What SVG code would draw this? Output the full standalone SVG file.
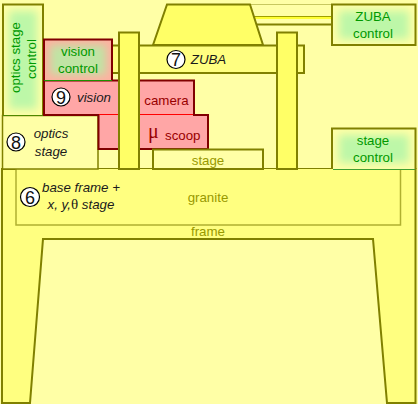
<svg xmlns="http://www.w3.org/2000/svg" width="418" height="404" viewBox="0 0 418 404">
<style>
text{font-family:"Liberation Sans",Arial,sans-serif;font-size:13.3px;text-anchor:middle}
.y{fill:#ffff80;stroke:#808000;stroke-width:2}
.l{fill:#ffffa6;stroke:#808000;stroke-width:2}
.c{fill:#ffff66;stroke:#808000;stroke-width:2}
.r{fill:#ffa6a6;stroke:#800000;stroke-width:2}
.g{fill:#009900}
.o{fill:#999900}
.d{fill:#990000}
.i{fill:#1a1a1a;font-style:italic}
.n{fill:#fff;stroke:#000;stroke-width:1.2}
.t{fill:#111;font-size:18px}
.s{font-family:"Liberation Serif",serif;font-style:normal}
</style>
<defs>
<filter id="b" x="-40%" y="-40%" width="180%" height="180%"><feGaussianBlur stdDeviation="4"/></filter>
<clipPath id="c1"><rect x="3" y="5" width="40" height="110"/></clipPath>
<clipPath id="c2"><rect x="44" y="39.500" width="68" height="41"/></clipPath>
<clipPath id="c3"><rect x="333" y="5" width="82" height="40"/></clipPath>
<clipPath id="c4"><rect x="333" y="129" width="82" height="40"/></clipPath>
</defs>
<rect width="418" height="404" fill="#ffffa6"/>
<g id="frame"><path class="y" d="M2 169H415.500V403H387L373 239H43L30 403H2Z"/><text class="o" x="208" y="236">frame</text></g>
<g id="granite"><path d="M16 169V225H400.500V169" fill="#ffff80" stroke="#b0b030" stroke-width="1.500"/><text class="o" x="208" y="202">granite</text></g>
<g id="zuba-link"><path d="M250 4.500H332" stroke="#c8c860" stroke-width="1" fill="none"/><path d="M256 24.500H332" stroke="#808000" stroke-width="2"/><path d="M254 16.500H333" stroke="#a0a000" stroke-width="1"/><path d="M254 18H333" stroke="#ffff33" stroke-width="2"/></g>
<g id="optics-stage"><rect x="2.500" y="115.500" width="95.500" height="53.500" fill="#ffffa6" stroke="#808000" stroke-width="1.500"/><path d="M3 115H43" stroke="#1e9000" stroke-width="1"/><text class="i" x="51" y="138">optics</text><text class="i" x="51" y="156">stage</text><circle class="n" cx="16" cy="142" r="9"/><text class="t" x="16" y="148.500">8</text></g>
<g id="optics-stage-control"><rect x="3" y="5" width="40" height="110" fill="#ffffa6"/><g clip-path="url(#c1)"><rect x="9" y="11" width="28" height="98" fill="#bdf7a8" filter="url(#b)"/></g><path d="M43 115V4.500H3V115" fill="none" stroke="#808000" stroke-width="2"/><text class="g" transform="translate(20 57.500) rotate(-90)">optics stage</text><text class="g" transform="translate(35.500 59) rotate(-90)">control</text></g>
<g id="zuba"><path class="c" d="M153 45L167 4.500H250L263 45Z"/><rect class="y" x="112" y="45.500" width="192" height="27.500"/><text class="i" x="208.500" y="64">ZUBA</text><circle class="n" cx="176" cy="59.500" r="9"/><text class="t" x="176" y="66">7</text></g>
<g id="vision"><path class="r" d="M44 80.500H194V115H208V149H98.500V115H44Z"/><path d="M99 114.500H193" stroke="#ff0000" stroke-width="1"/><text class="i" x="94" y="102">vision</text><text class="d" x="166.500" y="105">camera</text><text class="d" style="text-anchor:start" x="148" y="138"><tspan class="s" style="font-size:20px">μ</tspan><tspan x="165" y="140">scoop</tspan></text><circle class="n" cx="61" cy="97" r="9"/><text class="t" x="61" y="103.500">9</text></g>
<g id="vision-control"><rect x="44" y="39.500" width="68" height="41" fill="#ffb0a0"/><g clip-path="url(#c2)"><rect x="50" y="45" width="56" height="30" fill="#c0e4a4" filter="url(#b)"/></g><path d="M44 80V39.500H112V80" fill="none" stroke="#800000" stroke-width="2"/><path d="M44 80.500H112" stroke="#1e9000" stroke-width="1"/><text class="g" x="78" y="55.500">vision</text><text class="g" x="78" y="72.500">control</text></g>
<g id="stage"><path class="l" d="M153 169V149.500H263V169Z"/><text class="o" x="208" y="164.500">stage</text></g>
<g id="columns"><rect class="c" x="119" y="32.500" width="20" height="136.500"/><rect class="c" x="277" y="32.500" width="20" height="136.500"/></g>
<g id="zuba-control"><rect x="333" y="5" width="82" height="40" fill="#ffffa6"/><g clip-path="url(#c3)"><rect x="339" y="11" width="70" height="28" fill="#bdf7a8" filter="url(#b)"/></g><path d="M332 45V4.500H415.500V45Z" fill="none" stroke="#808000" stroke-width="2"/><text class="g" x="373" y="21">ZUBA</text><text class="g" x="373" y="37.500">control</text></g>
<g id="stage-control"><rect x="333" y="129" width="82" height="40" fill="#ffffa6"/><g clip-path="url(#c4)"><rect x="339" y="135" width="70" height="28" fill="#bdf7a8" filter="url(#b)"/></g><path d="M332 169V128.500H415.500V169" fill="none" stroke="#808000" stroke-width="2"/><path d="M333 169.500H415" stroke="#40a030" stroke-width="1"/><text class="g" x="373" y="145">stage</text><text class="g" x="373" y="161.500">control</text></g>
<g id="base"><text class="i" x="81" y="192">base frame +</text><text class="i" x="81" y="209">x, y,<tspan class="s" style="font-size:15px">θ</tspan> stage</text><circle class="n" cx="30" cy="197" r="9.500"/><text class="t" x="30" y="203.500">6</text></g>
</svg>
